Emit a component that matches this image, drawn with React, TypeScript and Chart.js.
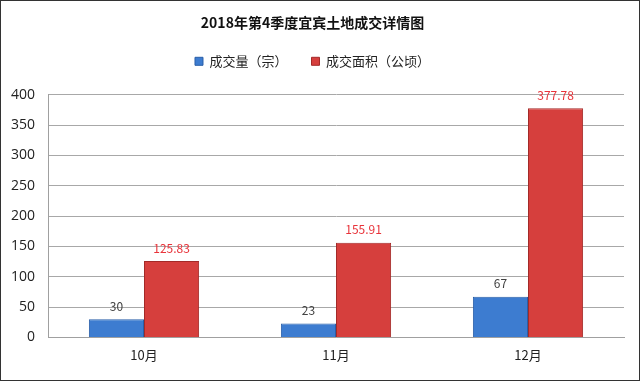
import React, { useEffect, useRef } from "react";
import { Chart, registerables } from "chart.js";

Chart.register(...registerables);

const categories = ["10月", "11月", "12月"];
const countValues = [30, 23, 67];
const areaValues = [125.83, 155.91, 377.78];
const seriesNames = ["成交量（宗）", "成交面积（公顷）"];
const titleText = "2018年第4季度宜宾土地成交详情图";
const yTicks = [0, 50, 100, 150, 200, 250, 300, 350, 400];

const FONT = "'Noto Sans CJK SC', 'Noto Sans', sans-serif";

const labelPlugin = {
  id: "valueLabels",
  afterDatasetsDraw(chart: any) {
    const ctx = chart.ctx;
    ctx.save();
    chart.data.datasets.forEach((ds: any, di: number) => {
      const meta = chart.getDatasetMeta(di);
      meta.data.forEach((bar: any, i: number) => {
        const v = ds.data[i];
        ctx.font = `12px ${FONT}`;
        ctx.fillStyle = di === 0 ? "#404040" : "#e8333a";
        ctx.textAlign = "center";
        ctx.textBaseline = "bottom";
        ctx.fillText(di === 0 ? String(v) : v.toFixed(2), bar.x, bar.y - 7);
      });
    });
    ctx.restore();
  },
};

const legendSpace = {
  id: "legendSpace",
  beforeInit(chart: any) {
    const orig = chart.legend.fit;
    chart.legend.fit = function () {
      orig.bind(this)();
      this.height += 17;
    };
  },
};

export default function App() {
  const ref = useRef<HTMLCanvasElement>(null);
  useEffect(() => {
    const chart = new Chart(ref.current!, {
      type: "bar",
      data: {
        labels: categories,
        datasets: [
          {
            label: seriesNames[0],
            data: countValues,
            backgroundColor: "#3d7cd0",
            borderColor: "#2a5fa8",
            borderWidth: 1,
            categoryPercentage: 0.574,
            barPercentage: 1,
          },
          {
            label: seriesNames[1],
            data: areaValues,
            backgroundColor: "#d63f3d",
            borderColor: "#a32a28",
            borderWidth: 1,
            categoryPercentage: 0.574,
            barPercentage: 1,
          },
        ],
      },
      options: {
        animation: false,
        responsive: false,
        maintainAspectRatio: false,
        layout: { padding: { left: 0, right: 15, top: 0, bottom: 7 } },
        plugins: {
          title: {
            display: true,
            text: titleText,
            color: "#111",
            font: { family: FONT, size: 14, weight: "bold" },
            padding: { top: 13, bottom: 0 },
          },
          legend: {
            display: true,
            labels: {
              color: "#222",
              font: { family: FONT, size: 13 },
              boxWidth: 8,
              boxHeight: 8,
              padding: 24,
            },
          },
          tooltip: { enabled: false },
        },
        scales: {
          x: {
            grid: { display: false, drawTicks: false },
            border: { display: true, color: "#a0a0a0" },
            ticks: { color: "#222", font: { family: FONT, size: 13 }, padding: 10 },
          },
          y: {
            min: 0,
            max: 400,
            afterBuildTicks(axis: any) {
              axis.ticks = yTicks.map((v) => ({ value: v }));
            },
            afterFit(axis: any) {
              axis.width = 47;
            },
            grid: { color: "#a8a8a8", drawTicks: false },
            border: { display: true, color: "#a0a0a0" },
            ticks: { color: "#222", font: { family: "'Open Sans', sans-serif", size: 14 }, padding: 13 },
          },
        },
      },
      plugins: [labelPlugin, legendSpace],
    });
    return () => chart.destroy();
  }, []);
  return (
    <div
      style={{
        position: "fixed",
        left: 0,
        top: 0,
        width: 640,
        height: 381,
        boxSizing: "border-box",
        border: "1px solid #333",
        background: "#fff",
      }}
    >
      <canvas ref={ref} width={638} height={379} />
    </div>
  );
}
